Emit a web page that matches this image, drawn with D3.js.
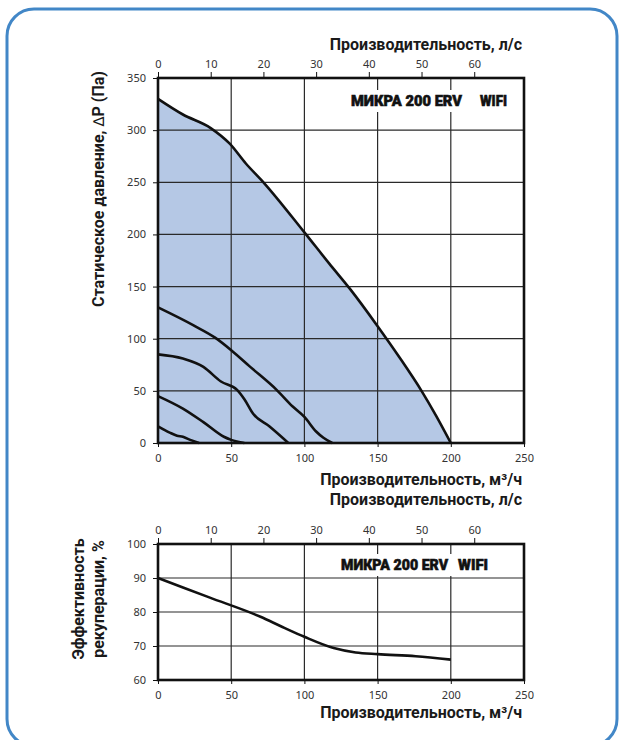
<!DOCTYPE html>
<html>
<head>
<meta charset="utf-8">
<script src="https://cdn.jsdelivr.net/npm/d3@7"></script>
<style>
  body { margin: 0; background: #fff; }
  svg { display: block; }
</style>
</head>
<body>
<script>
// Fan curves: airflow (m³/h) vs static pressure (Pa), one per speed step
const curveMax   = [[0,330],[17,315],[36,302],[49,287],[60,268],[72,250],[100,202],[117,172],[131,148],[150,112],[165,82],[180,50],[190,26],[200,0]];
const curveHigh  = [[0,130],[24,113],[39,101],[50,89],[63,73],[81,51],[92,35],[100,25],[108,11],[113,5],[119,0]];
const curveMid   = [[0,85],[17,81],[31,73],[43,59],[54,51],[59,42],[65,28],[76,16],[89,0]];
const curveLow   = [[0,45],[17,33],[31,20],[45,6],[50,3],[59,0]];
const curveMin   = [[0,16],[8,10],[13,7],[17,6],[22,3],[28,0]];
const fanCurves  = [curveMax, curveHigh, curveMid, curveLow, curveMin];

// Heat recovery efficiency (%) vs airflow (m³/h)
const efficiency = [[0,90],[35,84.3],[70,78.6],[85,75.6],[100,72.7],[120,69.4],[135,68.1],[150,67.6],[176,67],[200,66]];

// Axis ticks
const flowTicks     = [0, 50, 100, 150, 200, 250];
const flowLsTicks   = [0, 10, 20, 30, 40, 50, 60];
const pressureTicks = [0, 50, 100, 150, 200, 250, 300, 350];
const effTicks      = [60, 70, 80, 90, 100];

// Text
const modelName   = "МИКРА 200 ERV";
const modelSuffix = "WIFI";
const titleFlowM3 = "Производительность, м³/ч";
const titleFlowLs = "Производительность, л/с";
const titlePressure = ["Статическое давление, ", "∆", "P (Па)"];
const titleEff = ["Эффективность", "рекуперации, %"];

const W = 621, H = 740;
const M3H_PER_LS = 3.6;
const titleFont = "Roboto, 'Noto Sans', sans-serif";
const tickFont  = "'Noto Sans', 'Open Sans', sans-serif";

const svg = d3.select("body").append("svg")
  .attr("width", W).attr("height", H)
  .attr("viewBox", `0 0 ${W} ${H}`);

// Rounded frame around the whole sheet
svg.append("rect")
  .attr("x", 7).attr("y", 9).attr("width", 610).attr("height", 737)
  .attr("rx", 27).attr("ry", 27)
  .attr("fill", "none").attr("stroke", "#4287c7").attr("stroke-width", 3);

const plotL = 158, plotR = 524;
const x   = d3.scaleLinear().domain([0, 250]).range([plotL, plotR]);
const xLs = d3.scaleLinear().domain([0, 250 / M3H_PER_LS]).range([plotL, plotR]);

function styleAxis(g) {
  g.select(".domain").remove();
  g.selectAll(".tick line").attr("stroke", "#111").attr("stroke-width", 1);
  g.selectAll(".tick text")
    .attr("fill", "#333")
    .style("font-family", tickFont)
    .style("font-size", "11px");
}

function drawPanel(cfg) {
  const { y, yTicks, top, bottom } = cfg;
  const g = svg.append("g");

  // filled operating region
  if (cfg.area) {
    g.append("path")
      .datum(cfg.area)
      .attr("fill", "#b5c8e5")
      .attr("d", d3.area()
        .x(d => x(d[0])).y0(y(yTicks[0])).y1(d => y(d[1]))
        .curve(d3.curveMonotoneX));
  }

  // grid
  g.append("g").selectAll("line")
    .data(flowTicks.slice(1, -1))
    .join("line")
    .attr("x1", d => x(d)).attr("x2", d => x(d))
    .attr("y1", top).attr("y2", bottom)
    .attr("stroke", "#2a2a2a").attr("stroke-width", 1.2);
  g.append("g").selectAll("line")
    .data(yTicks.slice(1, -1))
    .join("line")
    .attr("y1", d => y(d)).attr("y2", d => y(d))
    .attr("x1", plotL).attr("x2", plotR)
    .attr("stroke", "#2a2a2a").attr("stroke-width", 1.2);

  // model label on a white plate
  const lab = g.append("g");
  const plate = lab.append("rect").attr("fill", "#fff");
  const t = lab.append("text")
    .attr("y", cfg.label.y)
    .style("font-family", titleFont).style("font-weight", 900).style("font-size", "15px")
    .attr("fill", "#111").attr("stroke", "#111").attr("stroke-width", 0.6);
  t.append("tspan").attr("x", cfg.label.x1)
    .attr("textLength", cfg.label.w1).attr("lengthAdjust", "spacingAndGlyphs")
    .text(modelName);
  t.append("tspan").attr("x", cfg.label.x2)
    .attr("textLength", cfg.label.w2).attr("lengthAdjust", "spacingAndGlyphs")
    .text(modelSuffix);
  plate.attr("x", cfg.label.x1 - 6).attr("y", cfg.label.y - 16)
    .attr("width", cfg.label.x2 + cfg.label.w2 - cfg.label.x1 + 12).attr("height", 22);

  // curves
  const line = d3.line().x(d => x(d[0])).y(d => y(d[1])).curve(d3.curveMonotoneX);
  g.append("g").selectAll("path")
    .data(cfg.lines)
    .join("path")
    .attr("d", line)
    .attr("fill", "none").attr("stroke", "#111")
    .attr("stroke-width", 2.6).attr("stroke-linejoin", "round");

  // axes
  g.append("g").attr("transform", `translate(${plotL},0)`)
    .call(d3.axisLeft(y).tickValues(yTicks).tickSize(5).tickPadding(7).tickFormat(d3.format("d")))
    .call(styleAxis);
  g.append("g").attr("transform", `translate(0,${bottom})`)
    .call(d3.axisBottom(x).tickValues(flowTicks).tickSize(4).tickPadding(7).tickFormat(d3.format("d")))
    .call(styleAxis);
  g.append("g").attr("transform", `translate(0,${top})`)
    .call(d3.axisTop(xLs).tickValues(flowLsTicks).tickSize(6).tickPadding(4).tickFormat(d3.format("d")))
    .call(styleAxis);

  // plot frame
  g.append("rect")
    .attr("x", plotL).attr("y", top)
    .attr("width", plotR - plotL).attr("height", bottom - top)
    .attr("fill", "none").attr("stroke", "#111").attr("stroke-width", 2.6);

  return g;
}

function title(txt, xPos, yPos) {
  svg.append("text")
    .attr("x", xPos).attr("y", yPos)
    .attr("text-anchor", "end")
    .style("font-family", titleFont).style("font-weight", 700).style("font-size", "16px")
    .attr("fill", "#1a1a1a").text(txt);
}

function vtitle(lines, xs, yc) {
  lines.forEach((t, i) => {
    svg.append("text")
      .attr("transform", `translate(${xs[i]},${yc}) rotate(-90)`)
      .attr("text-anchor", "middle")
      .style("font-family", titleFont).style("font-weight", 700).style("font-size", "16px")
      .attr("fill", "#1a1a1a").text(t);
  });
}

// --- Pressure chart ---
const yP = d3.scaleLinear().domain([0, 350]).range([443, 78]);
drawPanel({
  y: yP, yTicks: pressureTicks, top: 78, bottom: 443,
  area: curveMax, lines: fanCurves,
  label: { x1: 351, w1: 111, x2: 480, w2: 27, y: 106 }
});
title(titleFlowLs, 522, 50);
title(titleFlowM3, 522, 485);

// pressure axis title, the delta sign set in a light face
const pt = svg.append("text")
  .attr("transform", "translate(104,189) rotate(-90)")
  .attr("text-anchor", "middle")
  .style("font-family", titleFont).style("font-weight", 700).style("font-size", "16px")
  .attr("fill", "#1a1a1a");
pt.append("tspan").text(titlePressure[0]);
pt.append("tspan").style("font-family", "'DejaVu Sans', sans-serif").style("font-weight", 400)
  .style("font-size", "15px").text(titlePressure[1]);
pt.append("tspan").text(titlePressure[2]);

// --- Efficiency chart ---
const yE = d3.scaleLinear().domain([60, 100]).range([680, 544]);
drawPanel({
  y: yE, yTicks: effTicks, top: 544, bottom: 680,
  lines: [efficiency],
  label: { x1: 341, w1: 107, x2: 458, w2: 30, y: 570 }
});
title(titleFlowLs, 522, 505);
title(titleFlowM3, 522, 718);
vtitle(titleEff, [84, 103.5], 599);
</script>
</body>
</html>
